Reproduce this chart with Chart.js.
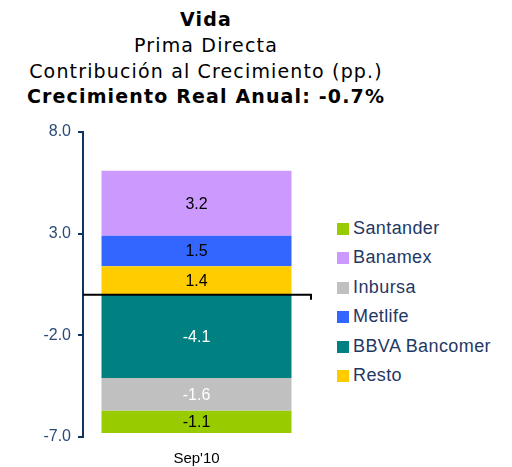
<!DOCTYPE html>
<html>
<head>
<meta charset="utf-8">
<script src="https://cdn.jsdelivr.net/npm/chart.js@4"></script>
<style>
  body { margin: 0; background: #fff; width: 512px; height: 467px; position: relative; overflow: hidden; }
  #titulo { position: absolute; left: 0; top: 7px; width: 412px; text-align: center;
            font-family: "DejaVu Sans", sans-serif; font-size: 19px; line-height: 25.8px;
            letter-spacing: 1.15px; color: #000; }
  #titulo .b { font-weight: bold; }
  #wrap { position: absolute; left: 0; top: 110px; width: 330px; height: 357px; }
  #leyenda { position: absolute; left: 337px; top: 214px; font-family: "Liberation Sans", Arial, sans-serif;
             font-size: 18px; letter-spacing: 0.4px; color: #1f3864; }
  #leyenda div { height: 29.4px; line-height: 29.4px; white-space: nowrap; }
  #leyenda span { display: inline-block; width: 12px; height: 12px; margin-right: 4px; vertical-align: -1px; }
</style>
</head>
<body>
<div id="titulo">
  <div class="b">Vida</div>
  <div>Prima Directa</div>
  <div>Contribución al Crecimiento (pp.)</div>
  <div class="b">Crecimiento Real Anual: -0.7%</div>
</div>
<div id="wrap"><canvas id="grafica"></canvas></div>
<div id="leyenda"></div>
<script>
// Datos (pp.) - orden de apilado
var categorias = ["Sep'10"];
var nombres = ['Resto', 'BBVA Bancomer', 'Metlife', 'Inbursa', 'Banamex', 'Santander'];
var valores = [1.4, -4.1, 1.5, -1.6, 3.2, -1.1];
var colores = ['#ffcc00', '#008080', '#3366ff', '#c0c0c0', '#cc99ff', '#99cc00'];
var coloresEtiqueta = ['#000', '#fff', '#000', '#fff', '#000', '#000'];
var ejeY = { min: -7, max: 8, paso: 5 };

var datasets = nombres.map(function (n, i) {
  return { label: n, data: [valores[i]], backgroundColor: colores[i], borderWidth: 0 };
});

// etiquetas de valor en cada segmento
var etiquetas = {
  id: 'etiquetas',
  afterDatasetsDraw: function (chart) {
    var ctx = chart.ctx;
    ctx.save();
    ctx.font = '16px "Liberation Sans", Arial, sans-serif';
    ctx.textAlign = 'center';
    ctx.textBaseline = 'middle';
    chart.data.datasets.forEach(function (ds, i) {
      var bar = chart.getDatasetMeta(i).data[0];
      ctx.fillStyle = coloresEtiqueta[i];
      ctx.fillText(ds.data[0].toFixed(1), bar.x, (bar.y + bar.base) / 2 + 1);
    });
    ctx.restore();
  }
};

// linea en cero
var lineaCero = {
  id: 'lineaCero',
  afterDatasetsDraw: function (chart) {
    var ctx = chart.ctx, a = chart.chartArea;
    var y0 = chart.scales.y.getPixelForValue(0);
    ctx.save();
    ctx.strokeStyle = '#000';
    ctx.lineWidth = 2;
    ctx.beginPath();
    ctx.moveTo(a.left, y0);
    ctx.lineTo(a.right + 1, y0);
    ctx.moveTo(a.right + 1, y0 - 1);
    ctx.lineTo(a.right + 1, y0 + 5);
    ctx.stroke();
    ctx.restore();
  }
};

new Chart(document.getElementById('grafica'), {
  type: 'bar',
  data: { labels: categorias, datasets: datasets },
  options: {
    responsive: true,
    maintainAspectRatio: false,
    animation: false,
    layout: { padding: { top: 22, right: 20, left: 0, bottom: 0 } },
    plugins: { legend: { display: false }, tooltip: { enabled: false } },
    datasets: { bar: { categoryPercentage: 1, barPercentage: 0.837 } },
    scales: {
      x: {
        stacked: true,
        grid: { display: false, drawTicks: false },
        border: { display: false },
        ticks: { color: '#000', padding: 13, font: { family: '"Liberation Sans", Arial', size: 15 } },
        afterFit: function (s) { s.height = 30; }
      },
      y: {
        stacked: true,
        min: ejeY.min, max: ejeY.max,
        grid: { drawOnChartArea: false, tickLength: 5, color: '#0f3363', lineWidth: 2 },
        border: { color: '#0f3363', width: 2 },
        ticks: {
          stepSize: ejeY.paso, padding: 7, color: '#2b4a75',
          font: { family: '"Liberation Sans", Arial', size: 16 },
          callback: function (v) { return v.toFixed(1); }
        },
        afterFit: function (s) { s.width = 83; }
      }
    }
  },
  plugins: [etiquetas, lineaCero]
});

// leyenda (orden inverso al apilado)
var ley = document.getElementById('leyenda');
for (var i = nombres.length - 1; i >= 0; i--) {
  var d = document.createElement('div');
  d.innerHTML = '<span style="background:' + colores[i] + '"></span>' + nombres[i];
  ley.appendChild(d);
}
</script>
</body>
</html>
